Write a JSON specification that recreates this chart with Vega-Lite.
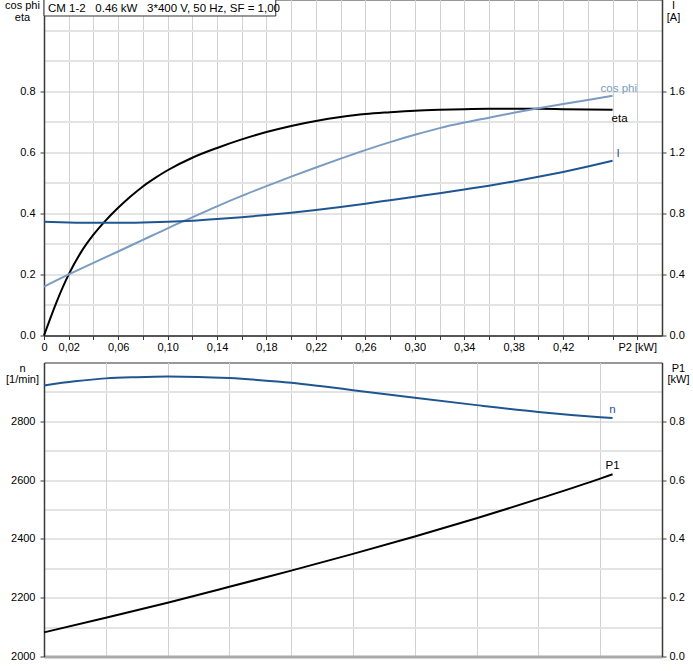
{
  "$schema": "https://vega.github.io/schema/vega-lite/v6.json",
  "padding": {"left": 4, "top": -1.5, "right": 5, "bottom": 5},
  "spacing": 8,
  "config": {
    "view": {"stroke": "#333333", "strokeWidth": 1},
    "axis": {
      "labelFont": "Liberation Sans", "titleFont": "Liberation Sans",
      "labelFontSize": 11, "titleFontSize": 11, "titleFontWeight": "normal",
      "labelColor": "#000000", "titleColor": "#000000",
      "domainColor": "#3a3a3a", "tickColor": "#3a3a3a", "domainWidth": 1.5
    },
    "text": {"font": "Liberation Sans", "fontSize": 11}
  },
  "datasets": {
    "top": [
      {"series": "eta", "P2": 0, "v": 0},
      {"series": "eta", "P2": 0.01, "v": 0.108},
      {"series": "eta", "P2": 0.02, "v": 0.2},
      {"series": "eta", "P2": 0.03, "v": 0.273},
      {"series": "eta", "P2": 0.04, "v": 0.33},
      {"series": "eta", "P2": 0.05, "v": 0.377},
      {"series": "eta", "P2": 0.06, "v": 0.418},
      {"series": "eta", "P2": 0.07, "v": 0.455},
      {"series": "eta", "P2": 0.08, "v": 0.488},
      {"series": "eta", "P2": 0.09, "v": 0.516},
      {"series": "eta", "P2": 0.1, "v": 0.541},
      {"series": "eta", "P2": 0.12, "v": 0.582},
      {"series": "eta", "P2": 0.14, "v": 0.614},
      {"series": "eta", "P2": 0.16, "v": 0.642},
      {"series": "eta", "P2": 0.18, "v": 0.666},
      {"series": "eta", "P2": 0.2, "v": 0.686},
      {"series": "eta", "P2": 0.22, "v": 0.702},
      {"series": "eta", "P2": 0.24, "v": 0.715},
      {"series": "eta", "P2": 0.26, "v": 0.725},
      {"series": "eta", "P2": 0.28, "v": 0.731},
      {"series": "eta", "P2": 0.3, "v": 0.736},
      {"series": "eta", "P2": 0.32, "v": 0.739},
      {"series": "eta", "P2": 0.34, "v": 0.741},
      {"series": "eta", "P2": 0.36, "v": 0.742},
      {"series": "eta", "P2": 0.38, "v": 0.742},
      {"series": "eta", "P2": 0.4, "v": 0.742},
      {"series": "eta", "P2": 0.42, "v": 0.741},
      {"series": "eta", "P2": 0.44, "v": 0.74},
      {"series": "eta", "P2": 0.46, "v": 0.739},
      {"series": "cos phi", "P2": 0, "v": 0.16},
      {"series": "cos phi", "P2": 0.02, "v": 0.2},
      {"series": "cos phi", "P2": 0.04, "v": 0.238},
      {"series": "cos phi", "P2": 0.06, "v": 0.275},
      {"series": "cos phi", "P2": 0.08, "v": 0.313},
      {"series": "cos phi", "P2": 0.1, "v": 0.351},
      {"series": "cos phi", "P2": 0.12, "v": 0.387},
      {"series": "cos phi", "P2": 0.14, "v": 0.423},
      {"series": "cos phi", "P2": 0.16, "v": 0.457},
      {"series": "cos phi", "P2": 0.18, "v": 0.489},
      {"series": "cos phi", "P2": 0.2, "v": 0.52},
      {"series": "cos phi", "P2": 0.22, "v": 0.55},
      {"series": "cos phi", "P2": 0.24, "v": 0.579},
      {"series": "cos phi", "P2": 0.26, "v": 0.607},
      {"series": "cos phi", "P2": 0.28, "v": 0.633},
      {"series": "cos phi", "P2": 0.3, "v": 0.657},
      {"series": "cos phi", "P2": 0.32, "v": 0.679},
      {"series": "cos phi", "P2": 0.34, "v": 0.697},
      {"series": "cos phi", "P2": 0.36, "v": 0.713},
      {"series": "cos phi", "P2": 0.38, "v": 0.729},
      {"series": "cos phi", "P2": 0.4, "v": 0.744},
      {"series": "cos phi", "P2": 0.42, "v": 0.758},
      {"series": "cos phi", "P2": 0.44, "v": 0.771},
      {"series": "cos phi", "P2": 0.46, "v": 0.785},
      {"series": "I", "P2": 0, "v": 0.744},
      {"series": "I", "P2": 0.02, "v": 0.74},
      {"series": "I", "P2": 0.04, "v": 0.738},
      {"series": "I", "P2": 0.06, "v": 0.738},
      {"series": "I", "P2": 0.08, "v": 0.74},
      {"series": "I", "P2": 0.1, "v": 0.744},
      {"series": "I", "P2": 0.12, "v": 0.751},
      {"series": "I", "P2": 0.14, "v": 0.762},
      {"series": "I", "P2": 0.16, "v": 0.775},
      {"series": "I", "P2": 0.18, "v": 0.789},
      {"series": "I", "P2": 0.2, "v": 0.804},
      {"series": "I", "P2": 0.22, "v": 0.821},
      {"series": "I", "P2": 0.24, "v": 0.841},
      {"series": "I", "P2": 0.26, "v": 0.863},
      {"series": "I", "P2": 0.28, "v": 0.886},
      {"series": "I", "P2": 0.3, "v": 0.909},
      {"series": "I", "P2": 0.32, "v": 0.932},
      {"series": "I", "P2": 0.34, "v": 0.956},
      {"series": "I", "P2": 0.36, "v": 0.981},
      {"series": "I", "P2": 0.38, "v": 1.009},
      {"series": "I", "P2": 0.4, "v": 1.039},
      {"series": "I", "P2": 0.42, "v": 1.071},
      {"series": "I", "P2": 0.44, "v": 1.106},
      {"series": "I", "P2": 0.46, "v": 1.144}
    ],
    "bottom": [
      {"series": "n", "P2": 0, "v": 2922},
      {"series": "n", "P2": 0.025, "v": 2936},
      {"series": "n", "P2": 0.05, "v": 2946},
      {"series": "n", "P2": 0.075, "v": 2950},
      {"series": "n", "P2": 0.1, "v": 2952},
      {"series": "n", "P2": 0.125, "v": 2951},
      {"series": "n", "P2": 0.15, "v": 2947},
      {"series": "n", "P2": 0.175, "v": 2940},
      {"series": "n", "P2": 0.2, "v": 2931},
      {"series": "n", "P2": 0.225, "v": 2919},
      {"series": "n", "P2": 0.25, "v": 2906},
      {"series": "n", "P2": 0.3, "v": 2880},
      {"series": "n", "P2": 0.35, "v": 2855},
      {"series": "n", "P2": 0.4, "v": 2832},
      {"series": "n", "P2": 0.45, "v": 2814},
      {"series": "n", "P2": 0.46, "v": 2811},
      {"series": "P1", "P2": 0, "v": 0.082},
      {"series": "P1", "P2": 0.05, "v": 0.132},
      {"series": "P1", "P2": 0.1, "v": 0.183},
      {"series": "P1", "P2": 0.15, "v": 0.237},
      {"series": "P1", "P2": 0.2, "v": 0.292},
      {"series": "P1", "P2": 0.25, "v": 0.349},
      {"series": "P1", "P2": 0.3, "v": 0.408},
      {"series": "P1", "P2": 0.35, "v": 0.47},
      {"series": "P1", "P2": 0.4, "v": 0.536},
      {"series": "P1", "P2": 0.45, "v": 0.605},
      {"series": "P1", "P2": 0.46, "v": 0.62}
    ]
  },
  "vconcat": [
    {
      "width": 618,
      "height": 336,
      "layer": [
        {
          "layer": [
            {
              "data": {"name": "top"},
              "transform": [{"filter": "datum.series != 'I'"}],
              "mark": {"type": "line", "strokeWidth": 2, "interpolate": "monotone"},
              "encoding": {
                "x": {
                  "field": "P2", "type": "quantitative",
                  "scale": {"domain": [0, 0.5], "nice": false, "zero": false},
                  "axis": {
                    "title": null, "tickCount": 60,
                    "values": [0, 0.02, 0.04, 0.06, 0.08, 0.1, 0.12, 0.14, 0.16, 0.18, 0.2, 0.22, 0.24, 0.26, 0.28, 0.3, 0.32, 0.34, 0.36, 0.38, 0.4, 0.42, 0.44, 0.46, 0.48],
                    "labelExpr": "round(datum.value*50)==0 ? '0' : round(datum.value*50)==24 ? 'P2 [kW]' : (round(datum.value*50)%2==1 && round(datum.value*50)<=21) ? replace(format(datum.value,'.2f'),'.',',') : ''",
                    "labelOverlap": false, "labelFlush": false, "labelBound": false,
                    "grid": true, "gridColor": "#d2d2d2", "gridWidth": 1,
                    "tickSize": 4, "labelPadding": 2
                  }
                },
                "y": {
                  "field": "v", "type": "quantitative",
                  "scale": {"domain": [0, 1.1], "nice": false, "zero": false},
                  "axis": {
                    "title": ["cos phi", "eta"], "tickCount": 60,
                    "titleAngle": 0, "titleAlign": "center", "titleBaseline": "top",
                    "titleX": -22, "titleY": 0, "titleLineHeight": 12,
                    "values": [0, 0.1, 0.2, 0.3, 0.4, 0.5, 0.6, 0.7, 0.8, 0.9, 1.0],
                    "labelExpr": "(round(datum.value*10)%2==0 && datum.value<0.85) ? format(datum.value,'.1f') : ''",
                    "labelOverlap": false,
                    "grid": true,
                    "gridColor": {"condition": {"test": "round(datum.value*10)%2==0 && datum.value<0.85", "value": "#c9c9c9"}, "value": "#e3e3e3"},
                    "gridWidth": {"condition": {"test": "round(datum.value*10)%2==0 && datum.value<0.85", "value": 1}, "value": 2},
                    "tickOpacity": {"condition": {"test": "round(datum.value*10)%2==0 && datum.value<0.85", "value": 1}, "value": 0},
                    "tickSize": 4, "labelPadding": 5
                  }
                },
                "color": {"field": "series", "type": "nominal", "scale": {"domain": ["eta", "cos phi"], "range": ["#000000", "#7a9cc2"]}, "legend": null}
              }
            },
            {
              "data": {"name": "top"},
              "transform": [{"filter": "datum.series == 'cos phi' && datum.P2 == 0.46"}],
              "mark": {"type": "text", "align": "left", "baseline": "middle", "dx": -12, "dy": -7, "color": "#7a9cc2", "fontSize": 11.5},
              "encoding": {
                "x": {"field": "P2", "type": "quantitative"},
                "y": {"field": "v", "type": "quantitative"},
                "text": {"field": "series"}
              }
            },
            {
              "data": {"name": "top"},
              "transform": [{"filter": "datum.series == 'eta' && datum.P2 == 0.46"}],
              "mark": {"type": "text", "align": "left", "baseline": "middle", "dx": -1, "dy": 9, "color": "#000000", "fontSize": 11.5},
              "encoding": {
                "x": {"field": "P2", "type": "quantitative"},
                "y": {"field": "v", "type": "quantitative"},
                "text": {"field": "series"}
              }
            },
            {
              "data": {"values": [{"box": "title"}]},
              "mark": {"type": "rect", "fill": "#ffffff", "stroke": "#333333", "strokeWidth": 1},
              "encoding": {
                "x": {"datum": 0, "type": "quantitative"},
                "x2": {"datum": 0.1875},
                "y": {"datum": 1.1, "type": "quantitative"},
                "y2": {"datum": 1.046}
              }
            },
            {
              "data": {"values": [{"box": "title"}]},
              "mark": {"type": "text", "align": "left", "baseline": "middle", "dx": 4, "dy": 9, "color": "#000000", "fontSize": 11.5},
              "encoding": {
                "x": {"datum": 0, "type": "quantitative"},
                "y": {"datum": 1.1, "type": "quantitative"},
                "text": {"value": "CM 1-2\u00a0\u00a0 0.46 kW\u00a0\u00a0 3*400 V, 50 Hz, SF = 1,00"}
              }
            }
          ]
        },
        {
          "data": {"name": "top"},
          "transform": [{"filter": "datum.series == 'I'"}],
          "encoding": {
            "x": {"field": "P2", "type": "quantitative"},
            "y": {
              "field": "v", "type": "quantitative",
              "scale": {"domain": [0, 2.2], "nice": false, "zero": false},
              "axis": {
                "orient": "right", "tickCount": 60,
                "title": ["I", "[A]"],
                "titleAngle": 0, "titleAlign": "center", "titleBaseline": "top",
                "titleX": 11, "titleY": 0, "titleLineHeight": 12,
                "values": [0, 0.4, 0.8, 1.2, 1.6],
                "labelOverlap": false,
                "format": ".1f",
                "grid": false,
                "tickSize": 4, "labelPadding": 3
              }
            }
          },
          "layer": [
            {"mark": {"type": "line", "strokeWidth": 2, "interpolate": "monotone", "color": "#1f5591"}},
            {
              "transform": [{"filter": "datum.P2 == 0.46"}],
              "mark": {"type": "text", "align": "left", "baseline": "middle", "dx": 4, "dy": -7, "color": "#1f5591", "fontSize": 11.5},
              "encoding": {"text": {"field": "series"}}
            }
          ]
        }
      ],
      "resolve": {"scale": {"y": "independent"}, "axis": {"y": "independent"}}
    },
    {
      "width": 618,
      "height": 294,
      "layer": [
        {
          "data": {"name": "bottom"},
          "transform": [{"filter": "datum.series == 'n'"}],
          "encoding": {
            "x": {
              "field": "P2", "type": "quantitative",
              "scale": {"domain": [0, 0.5], "nice": false, "zero": false},
              "axis": {
                "title": null, "tickCount": 60,
                "values": [0, 0.05, 0.1, 0.15, 0.2, 0.25, 0.3, 0.35, 0.4, 0.45, 0.5],
                "labels": false, "ticks": false,
                "grid": true, "gridColor": "#d2d2d2", "gridWidth": 1,
                "domainColor": "#aaaaaa", "domainWidth": 3
              }
            },
            "y": {
              "field": "v", "type": "quantitative",
              "scale": {"domain": [2000, 3000], "nice": false, "zero": false},
              "axis": {
                "title": ["n", "[1/min]"], "tickCount": 60,
                "titleAngle": 0, "titleAlign": "center", "titleBaseline": "top",
                "titleX": -22, "titleY": 0, "titleLineHeight": 11,
                "values": [2000, 2100, 2200, 2300, 2400, 2500, 2600, 2700, 2800, 2900],
                "labelExpr": "(datum.value%200==0 && datum.value<2900) ? format(datum.value,'d') : ''",
                "labelOverlap": false,
                "grid": true,
                "gridColor": {"condition": {"test": "datum.value%200==0 && datum.value<2900", "value": "#c9c9c9"}, "value": "#e3e3e3"},
                "gridWidth": {"condition": {"test": "datum.value%200==0 && datum.value<2900", "value": 1}, "value": 2},
                "tickOpacity": {"condition": {"test": "datum.value%200==0 && datum.value<2900", "value": 1}, "value": 0},
                "tickSize": 4, "labelPadding": 5
              }
            }
          },
          "layer": [
            {"mark": {"type": "line", "strokeWidth": 2, "interpolate": "monotone", "color": "#1f5591"}},
            {
              "transform": [{"filter": "datum.P2 == 0.46"}],
              "mark": {"type": "text", "align": "center", "baseline": "middle", "dx": 0, "dy": -8, "color": "#1f5591", "fontSize": 11.5},
              "encoding": {"text": {"field": "series"}}
            }
          ]
        },
        {
          "data": {"name": "bottom"},
          "transform": [{"filter": "datum.series == 'P1'"}],
          "encoding": {
            "x": {"field": "P2", "type": "quantitative"},
            "y": {
              "field": "v", "type": "quantitative",
              "scale": {"domain": [0, 1.0], "nice": false, "zero": false},
              "axis": {
                "orient": "right", "tickCount": 60,
                "title": ["P1", "[kW]"],
                "titleAngle": 0, "titleAlign": "center", "titleBaseline": "top",
                "titleX": 16, "titleY": 0, "titleLineHeight": 11,
                "values": [0, 0.2, 0.4, 0.6, 0.8],
                "format": ".1f",
                "labelOverlap": false,
                "grid": false,
                "tickSize": 4, "labelPadding": 3
              }
            }
          },
          "layer": [
            {"mark": {"type": "line", "strokeWidth": 2, "interpolate": "monotone", "color": "#000000"}},
            {
              "transform": [{"filter": "datum.P2 == 0.46"}],
              "mark": {"type": "text", "align": "center", "baseline": "middle", "dx": 0, "dy": -8, "color": "#000000", "fontSize": 11.5},
              "encoding": {"text": {"field": "series"}}
            }
          ]
        }
      ],
      "resolve": {"scale": {"y": "independent"}, "axis": {"y": "independent"}}
    }
  ]
}
